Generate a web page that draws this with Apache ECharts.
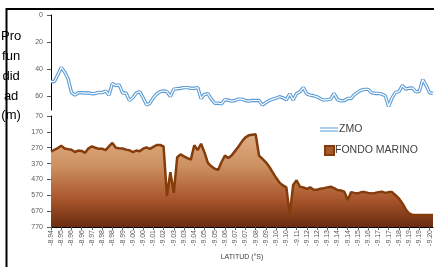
<!DOCTYPE html>
<html>
<head>
<meta charset="utf-8">
<script src="https://cdn.jsdelivr.net/npm/echarts@6/dist/echarts.min.js"></script>
<style>
  html, body { margin: 0; padding: 0; background: #fff; }
  #main { width: 434px; height: 267px; }
</style>
</head>
<body>
<div id="main"></div>
<script>
// etiquetas de latitud mostradas en el eje (una cada 3 puntos)
const tickLabels = ['-8.94','-8.95','-8.96','-8.96','-8.97','-8.98','-8.98','-8.99','-9.00','-9.00',
  '-9.01','-9.02','-9.03','-9.03','-9.04','-9.05','-9.05','-9.06','-9.07','-9.07',
  '-9.08','-9.09','-9.10','-9.10','-9.11','-9.12','-9.12','-9.13','-9.14','-9.14',
  '-9.15','-9.16','-9.17','-9.17','-9.18','-9.19','-9.19','-9.20'];

// profundidad de la ZMO (m)
const zmo = [49,49,44,38.6,42,47,57,59,57.3,57.3,
  57.5,57.3,58,57.8,57,57.2,56,59,50.4,52,
  51.5,57.5,57.5,63,61,57.5,56.5,61,66.2,65,
  61,58.2,56.5,56,56.5,60,54.6,54.3,54,53.5,
  53.5,54,54,53.5,61.5,58.5,58,62,65,65,
  65.5,62.2,62.8,63.5,63,62,62,63,63.4,63,
  63,63,66.4,64.5,63,62,61.3,60.2,61,62.5,
  58,62.7,57.8,56.5,53.5,58.2,59,59.5,60.3,61.7,
  62.7,62.4,62,57.8,62.4,63.3,63,61.5,61.5,58.5,
  56.8,55.3,54.8,54.8,57.3,57.8,57.8,58.3,59.5,67.4,
  61,57,56.5,52,54.5,54,53.8,56.6,56.2,47.5,
  52,57.3,57.8];

// profundidad del fondo marino (m)
const fondo = [295,283,272,257,275,279,283,297,288,290,
  302,274,262,270,277,276,285,262,240,270,
  273,275,282,286,298,288,292,276,268,277,
  265,253,253,262,575,425,555,330,312,325,
  335,345,255,285,245,300,365,387,403,410,
  360,320,335,318,290,262,230,205,192,188,
  185,320,340,362,390,425,460,490,508,520,
  690,505,475,516,520,530,520,535,535,528,
  525,520,516,525,537,540,547,600,550,555,
  558,550,550,555,558,555,550,547,555,550,
  550,570,590,620,658,685,694,694,694,694,
  694,694,694];

const categories = fondo.map((_, i) => (i % 3 === 0 && i / 3 < tickLabels.length) ? tickLabels[i / 3] : '');

const chart = echarts.init(document.getElementById('main'));

const tickFont = { fontFamily: 'Liberation Sans', fontSize: 7, color: '#595959' };

chart.setOption({
  animation: false,
  grid: [
    { left: 51, right: 1, top: 15, height: 95 },
    { left: 51, right: 1, top: 116, height: 111 }
  ],
  xAxis: [
    { gridIndex: 0, type: 'category', data: categories, boundaryGap: false, show: false },
    {
      gridIndex: 1, type: 'category', data: categories, boundaryGap: false,
      axisLine: { lineStyle: { color: '#000', width: 1 } },
      axisTick: { interval: 2, length: 3, lineStyle: { color: '#595959' } },
      axisLabel: Object.assign({ interval: 2, rotate: 90, margin: 3 }, tickFont),
      name: 'LATITUD (°S)', nameLocation: 'middle', nameGap: 27,
      nameTextStyle: { fontFamily: 'Liberation Sans', fontSize: 7, color: '#404040' }
    }
  ],
  yAxis: [
    {
      gridIndex: 0, type: 'value', inverse: true, min: 0, max: 70, interval: 20,
      splitLine: { show: false },
      axisLine: { show: true, lineStyle: { color: '#000' } },
      axisTick: { show: true, length: 4, lineStyle: { color: '#595959' } },
      axisLabel: Object.assign({ margin: 8, showMaxLabel: false }, tickFont)
    },
    {
      gridIndex: 1, type: 'value', inverse: true, min: 70, max: 770, interval: 100,
      splitLine: { show: false },
      axisLine: { show: true, lineStyle: { color: '#000' } },
      axisTick: { show: true, length: 4, lineStyle: { color: '#595959' } },
      axisLabel: Object.assign({ margin: 8 }, tickFont)
    }
  ],
  legend: [
    {
      data: ['ZMO'], left: 315, top: 119, itemWidth: 18, itemHeight: 5, itemGap: 2,
      icon: 'path://M0,0H30V2H0Z M0,5H30V7H0Z',
      textStyle: { fontFamily: 'Liberation Sans', fontSize: 10.5, color: '#404040', padding: [0, 0, 0, -4] }
    },
    {
      data: ['FONDO MARINO'], left: 319, top: 140, itemWidth: 9, itemHeight: 9,
      icon: 'rect',
      textStyle: { fontFamily: 'Liberation Sans', fontSize: 10.5, color: '#404040', padding: [0, 0, 0, -4] }
    }
  ],
  series: [
    {
      name: 'ZMO', type: 'line', xAxisIndex: 0, yAxisIndex: 0, data: zmo,
      symbol: 'none', color: '#5B9BD5',
      lineStyle: { color: '#5B9BD5', width: 3.4 }
    },
    {
      name: 'ZMO_borde', type: 'line', xAxisIndex: 0, yAxisIndex: 0, data: zmo,
      symbol: 'none', color: '#fff', silent: true,
      lineStyle: { color: '#fff', width: 1.2 }
    },
    {
      name: 'FONDO MARINO', type: 'line', xAxisIndex: 1, yAxisIndex: 1, data: fondo,
      symbol: 'none', color: '#9C4A1E',
      itemStyle: { color: '#A65A2E', borderColor: '#843C0C', borderWidth: 1.5 },
      lineStyle: { color: '#843C0C', width: 2.5 },
      areaStyle: {
        origin: 'end', opacity: 1,
        color: new echarts.graphic.LinearGradient(0, 0, 0, 1, [
          { offset: 0, color: '#DEAD82' },
          { offset: 0.35, color: '#CC8F60' },
          { offset: 0.7, color: '#A9562B' },
          { offset: 1, color: '#6A2C10' }
        ])
      }
    }
  ],
  graphic: [
    {
      type: 'line', silent: true,
      shape: { x1: 6, y1: 9, x2: 434, y2: 9 },
      style: { stroke: '#000', lineWidth: 2 }
    },
    {
      type: 'line', silent: true,
      shape: { x1: 6.5, y1: 8, x2: 6.5, y2: 267 },
      style: { stroke: '#000', lineWidth: 2 }
    },
    {
      type: 'text', left: 1, top: 27, silent: true,
      style: {
        text: 'Pro\nfun\ndid\nad\n(m)',
        textAlign: 'center', textVerticalAlign: 'top',
        font: '13px "Liberation Sans"', fill: '#000', lineHeight: 19.7
      }
    }
  ]
});
</script>
</body>
</html>
